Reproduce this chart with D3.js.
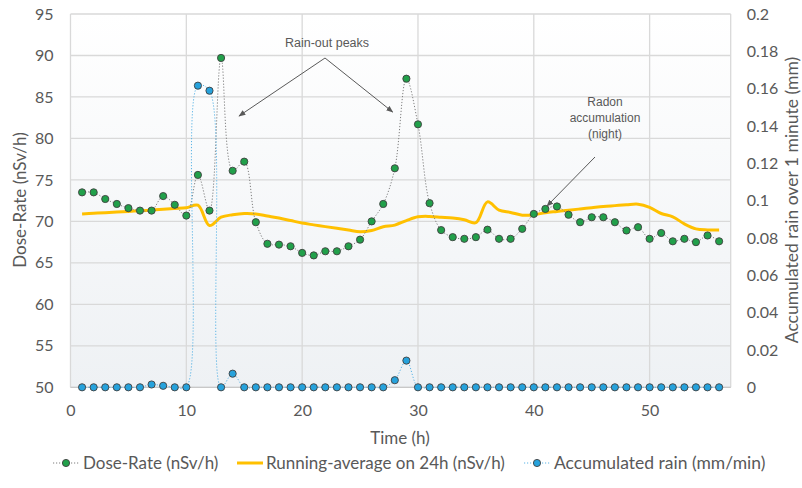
<!DOCTYPE html>
<html><head><meta charset="utf-8">
<script src="https://cdn.jsdelivr.net/npm/d3@7"></script>
<style>
html,body{margin:0;padding:0;background:#fff;}
svg text{font-family:Lato,"Open Sans",sans-serif;fill:#595959;}
</style></head>
<body><svg id="c" width="802" height="488"></svg>
<script>
const hours = d3.range(1, 57);
const doseRate = [73.5,73.5,72.7,72.1,71.6,71.3,71.3,73.05,72.0,70.7,
  75.6,71.3,89.7,76.1,77.2,69.9,67.3,67.2,67.0,66.2,
  65.9,66.4,66.4,67.0,67.8,70.0,72.1,76.4,87.2,81.7,
  72.2,68.95,68.1,67.9,68.1,69.0,67.9,67.9,69.1,70.9,
  71.5,71.8,70.8,69.9,70.5,70.5,69.9,68.9,69.3,67.9,
  68.6,67.6,67.9,67.5,68.3,67.6];
const runningAvg = [70.9,70.98,71.05,71.12,71.2,71.28,71.36,71.45,71.55,71.65,
  71.95,69.5,70.5,70.8,70.95,70.9,70.65,70.4,70.1,69.8,
  69.58,69.37,69.16,68.95,68.74,68.9,69.35,69.55,70.1,70.55,
  70.6,70.5,70.4,70.2,69.85,72.35,71.36,71.08,70.75,70.8,
  71.05,71.2,71.35,71.5,71.65,71.8,71.9,72.0,72.08,71.7,
  70.95,70.55,69.7,69.1,68.97,68.95];
const rain = [0,0,0,0,0,0,0.0015,0.0008,0,0,
  0.1616,0.1589,0,0.0073,0,0,0,0,0,0,
  0,0,0,0,0,0,0,0.0038,0.0143,0,
  0,0,0,0,0,0,0,0,0,0,
  0,0,0,0,0,0,0,0,0,0,
  0,0,0,0,0,0];
const xTicks = [0,10,20,30,40,50];
const yLeftTicks = [50,55,60,65,70,75,80,85,90,95];
const yRightTicks = [0,0.02,0.04,0.06,0.08,0.1,0.12,0.14,0.16,0.18,0.2];
const seriesNames = ["Dose-Rate (nSv/h)","Running-average on 24h (nSv/h)","Accumulated rain (mm/min)"];

const svg = d3.select("#c");
const L = 70.5, R = 730.7, T = 14, B = 387.3;
const x = d3.scaleLinear().domain([0,57]).range([L,R]);
const yL = d3.scaleLinear().domain([50,95]).range([B,T]);
const yR = d3.scaleLinear().domain([0,0.2]).range([B,T]);

const defs = svg.append("defs");
const grad = defs.append("linearGradient").attr("id","bg").attr("x1",0).attr("y1",0).attr("x2",0).attr("y2",1);
grad.append("stop").attr("offset","0%").attr("stop-color","#ffffff");
grad.append("stop").attr("offset","100%").attr("stop-color","#eef1f4");
const mk = defs.append("marker").attr("id","arr").attr("viewBox","0 0 10 10").attr("refX",9).attr("refY",5)
  .attr("markerWidth",7).attr("markerHeight",7).attr("orient","auto-start-reverse");
mk.append("path").attr("d","M0,1 L10,5 L0,9 Z").attr("fill","#595959");

svg.append("rect").attr("x",L).attr("y",T).attr("width",R-L).attr("height",B-T).attr("fill","url(#bg)");

// gridlines
svg.append("g").selectAll("line").data(yLeftTicks).join("line")
  .attr("x1",L).attr("x2",R).attr("y1",d=>yL(d)).attr("y2",d=>yL(d))
  .attr("stroke","#d9d9d9").attr("stroke-width",1.3);
svg.append("g").selectAll("line").data(xTicks).join("line")
  .attr("x1",d=>x(d)).attr("x2",d=>x(d)).attr("y1",T).attr("y2",B)
  .attr("stroke","#d9d9d9").attr("stroke-width",1.3);
svg.append("line").attr("x1",R).attr("x2",R).attr("y1",T).attr("y2",B).attr("stroke","#d9d9d9").attr("stroke-width",1.3);
svg.append("line").attr("x1",L).attr("x2",R).attr("y1",B).attr("y2",B).attr("stroke","#c8c8c8").attr("stroke-width",1.3);

// axes labels via d3 axes
const axL = svg.append("g").attr("transform",`translate(${L-17},0)`)
  .call(d3.axisLeft(yL).tickValues(yLeftTicks).tickSize(0).tickPadding(0));
const axR = svg.append("g").attr("transform",`translate(${R+16},0)`)
  .call(d3.axisRight(yR).tickValues(yRightTicks).tickSize(0).tickPadding(0).tickFormat(d=>String(+d.toFixed(2))));
const axB = svg.append("g").attr("transform",`translate(0,${B+17})`)
  .call(d3.axisBottom(x).tickValues(xTicks).tickSize(0).tickPadding(0));
[axL,axR,axB].forEach(a=>{a.select(".domain").remove();
  a.selectAll("text").attr("font-size",16).style("font-family","Lato, sans-serif").attr("fill","#595959");});
axB.selectAll("text").attr("dy","0.71em");

svg.append("text").attr("transform","translate(26,200) rotate(-90)").attr("text-anchor","middle")
  .attr("font-size",17).text("Dose-Rate (nSv/h)");
svg.append("text").attr("transform","translate(801,200) rotate(-90)").attr("text-anchor","middle")
  .attr("font-size",17.5).attr("dy","-0.2em").text("Accumulated rain over 1 minute (mm)");
svg.append("text").attr("x",400).attr("y",444).attr("text-anchor","middle").attr("font-size",17).text("Time (h)");

// running average
svg.append("path").datum(hours)
  .attr("d",d3.line().x(h=>x(h)).y((h,i)=>yL(runningAvg[i])).curve(d3.curveCatmullRom.alpha(0.5)))
  .attr("fill","none").attr("stroke","#ffc000").attr("stroke-width",3);

// dose-rate
svg.append("path").datum(hours)
  .attr("d",d3.line().x(h=>x(h)).y((h,i)=>yL(doseRate[i])).curve(d3.curveCatmullRom.alpha(0.5)))
  .attr("fill","none").attr("stroke","#7f7f7f").attr("stroke-width",1).attr("stroke-dasharray","1.2,1.8");
svg.append("g").selectAll("circle").data(hours).join("circle")
  .attr("cx",h=>x(h)).attr("cy",(h,i)=>yL(doseRate[i])).attr("r",3.6)
  .attr("fill","#21a04a").attr("stroke","#3f3f3f").attr("stroke-width",0.9);

// rain
svg.append("path").datum(hours)
  .attr("d",d3.line().x(h=>x(h)).y((h,i)=>yR(rain[i])).curve(d3.curveCatmullRom.alpha(0.5)))
  .attr("fill","none").attr("stroke","#5ab4e6").attr("stroke-width",1).attr("stroke-dasharray","1.2,1.8");
svg.append("g").selectAll("circle").data(hours).join("circle")
  .attr("cx",h=>x(h)).attr("cy",(h,i)=>yR(rain[i])).attr("r",3.6)
  .attr("fill","#26a2dc").attr("stroke","#3f3f3f").attr("stroke-width",0.9);

// annotations
const ann = svg.append("g");
ann.append("text").attr("x",327).attr("y",47).attr("text-anchor","middle").attr("font-size",12.5)
  .style("font-family","'Liberation Sans', Arial, sans-serif").text("Rain-out peaks");
ann.append("line").attr("x1",325).attr("y1",58).attr("x2",239).attr("y2",116).attr("stroke","#595959").attr("stroke-width",1).attr("marker-end","url(#arr)");
ann.append("line").attr("x1",325).attr("y1",58).attr("x2",392.7).attr("y2",112).attr("stroke","#595959").attr("stroke-width",1).attr("marker-end","url(#arr)");
const rad = ann.append("text").attr("text-anchor","middle").attr("font-size",12)
  .style("font-family","'Liberation Sans', Arial, sans-serif");
["Radon","accumulation","(night)"].forEach((t,i)=>rad.append("tspan").attr("x",605).attr("y",106+i*16).text(t));
ann.append("line").attr("x1",595).attr("y1",157).attr("x2",547).attr("y2",206).attr("stroke","#595959").attr("stroke-width",1).attr("marker-end","url(#arr)");

// legend
const ly = 463;
const lg = svg.append("g");
lg.append("line").attr("x1",53).attr("x2",79).attr("y1",ly).attr("y2",ly).attr("stroke","#7f7f7f").attr("stroke-dasharray","1.2,1.8");
lg.append("circle").attr("cx",66).attr("cy",ly).attr("r",3.6).attr("fill","#21a04a").attr("stroke","#3f3f3f").attr("stroke-width",0.9);
lg.append("text").attr("x",83).attr("y",ly).attr("dy","0.35em").attr("font-size",17).text(seriesNames[0]);
lg.append("line").attr("x1",237).attr("x2",263).attr("y1",ly).attr("y2",ly).attr("stroke","#ffc000").attr("stroke-width",3);
lg.append("text").attr("x",266).attr("y",ly).attr("dy","0.35em").attr("font-size",17).text(seriesNames[1]);
lg.append("line").attr("x1",524).attr("x2",550).attr("y1",ly).attr("y2",ly).attr("stroke","#5ab4e6").attr("stroke-dasharray","1.2,1.8");
lg.append("circle").attr("cx",537).attr("cy",ly).attr("r",3.6).attr("fill","#26a2dc").attr("stroke","#3f3f3f").attr("stroke-width",0.9);
lg.append("text").attr("x",554).attr("y",ly).attr("dy","0.35em").attr("font-size",17.5).text(seriesNames[2]);
</script></body></html>
